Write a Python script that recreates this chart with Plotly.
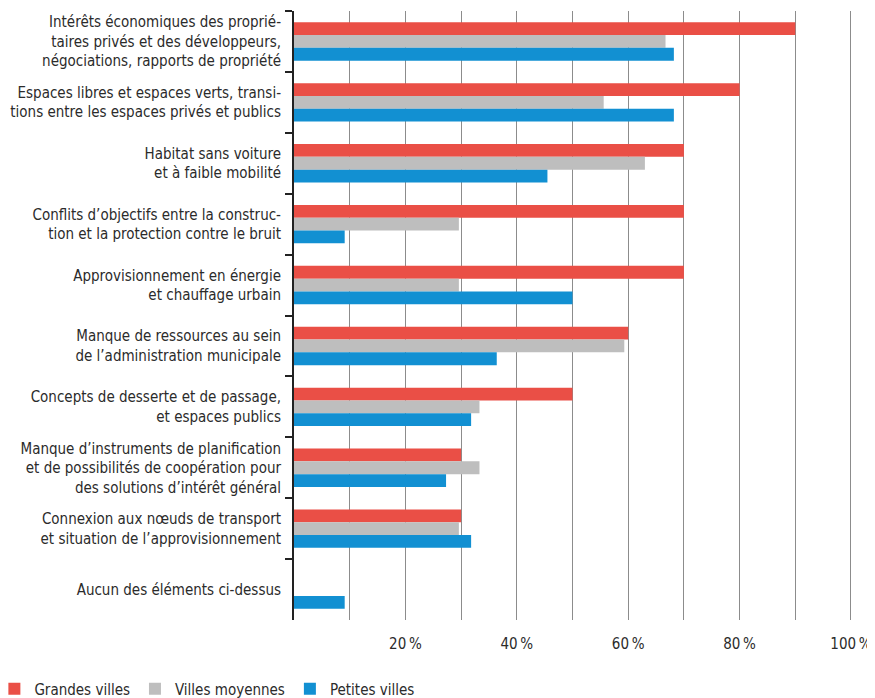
import plotly.graph_objects as go

# ── DATA ──
categories = [
    "Intérêts économiques des proprié-<br>taires privés et des développeurs,<br>négociations, rapports de propriété",
    "Espaces libres et espaces verts, transi-<br>tions entre les espaces privés et publics",
    "Habitat sans voiture<br>et à faible mobilité",
    "Conflits d’objectifs entre la construc-<br>tion et la protection contre le bruit",
    "Approvisionnement en énergie<br>et chauffage urbain",
    "Manque de ressources au sein<br>de l’administration municipale",
    "Concepts de desserte et de passage,<br>et espaces publics",
    "Manque d’instruments de planification<br>et de possibilités de coopération pour<br>des solutions d’intérêt général",
    "Connexion aux nœuds de transport<br>et situation de l’approvisionnement",
    "Aucun des éléments ci-dessus",
]
grandes_villes = [90, 80, 70, 70, 70, 60, 50, 30, 30, 0]
villes_moyennes = [66.7, 55.6, 63.0, 29.6, 29.6, 59.3, 33.3, 33.3, 29.6, 0]
petites_villes = [68.2, 68.2, 45.5, 9.1, 50.0, 36.4, 31.8, 27.3, 31.8, 9.1]

tick_vals = [10, 20, 30, 40, 50, 60, 70, 80, 90, 100]
tick_text = ["", "20\u202f%", "", "40\u202f%", "", "60\u202f%", "", "80\u202f%", "", "100\u202f%"]

FONT = "Liberation Sans Narrow, DejaVu Sans Condensed, Arial Narrow, sans-serif"
TEXT = "#2b2b2b"

series = [
    ("Grandes villes", grandes_villes, "#ea4f46"),
    ("Villes moyennes", villes_moyennes, "#bebebe"),
    ("Petites villes", petites_villes, "#1290d2"),
]

fig = go.Figure()
for name, vals, col in series:
    fig.add_trace(go.Bar(
        name=name, x=vals, y=categories, orientation="h",
        marker=dict(color=col, line=dict(width=0)),
    ))

# page body keeps its default 8px margin, so the figure is sized 8px smaller
fig.update_layout(
    width=867, height=690,
    margin=dict(l=286, r=22, t=3, b=78, autoexpand=False),
    paper_bgcolor="white", plot_bgcolor="white",
    barmode="group", bargap=0.37, bargroupgap=0,
    font=dict(family=FONT, size=15, color=TEXT),
    showlegend=True,
    legend=dict(
        orientation="h", xref="paper", yref="container",
        x=-0.536, y=0.013, xanchor="left", yanchor="middle",
        font=dict(size=15, color=TEXT), traceorder="normal",
        itemclick=False, bgcolor="rgba(0,0,0,0)",
    ),
)

# range runs a hair past 100 so the 100 % gridline is still drawn
fig.update_xaxes(
    range=[0, 100.36], tickvals=tick_vals, ticktext=tick_text,
    showgrid=True, gridcolor="#8c8c8c", gridwidth=1,
    zeroline=False, showline=False, ticks="",
    ticklabelstandoff=13, tickfont=dict(size=15, color=TEXT),
    automargin=False,
)
fig.update_yaxes(
    autorange="reversed", showline=True, linecolor="#222222", linewidth=2,
    ticks="outside", tickson="boundaries", ticklen=7, tickwidth=2,
    tickcolor="#222222", showgrid=False, zeroline=False,
    ticklabelstandoff=8, tickfont=dict(size=15, color=TEXT), automargin=False,
)

fig.write_html("out.html")
